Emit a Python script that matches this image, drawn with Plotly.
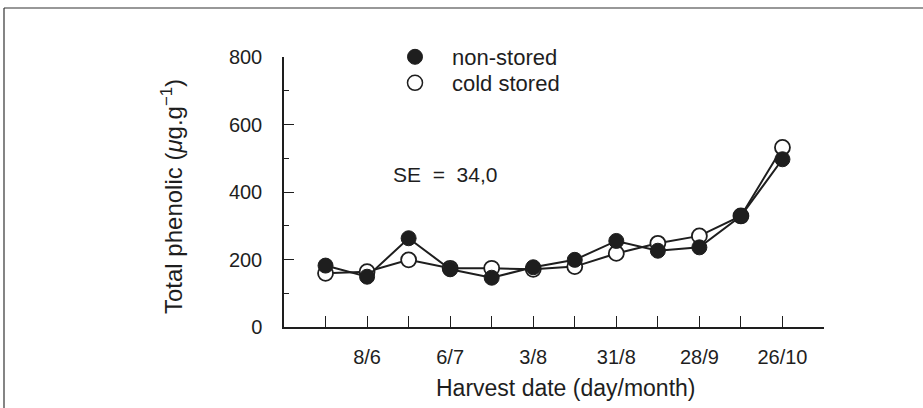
import plotly.graph_objects as go

# ---- data ----
positions = list(range(1, 13))
non_stored = [182, 149, 263, 171, 146, 177, 199, 255, 226, 236, 329, 497]
cold_stored = [159, 164, 199, 174, 174, 171, 179, 218, 248, 270, 329, 532]
x_tickvals = [2, 4, 6, 8, 10, 12]
x_ticktext = ["8/6", "6/7", "3/8", "31/8", "28/9", "26/10"]
y_tickvals = [0, 200, 400, 600, 800]

INK = "#1e1e1e"
FONT = "Liberation Sans, Arial, sans-serif"

fig = go.Figure()

fig.add_trace(go.Scatter(
    x=positions, y=cold_stored, mode="lines+markers", name="cold stored",
    showlegend=False,
    line=dict(color=INK, width=2),
    marker=dict(symbol="circle", size=15, color="white", line=dict(color=INK, width=1.8)),
))
fig.add_trace(go.Scatter(
    x=positions, y=non_stored, mode="lines+markers", name="non-stored",
    showlegend=False,
    line=dict(color=INK, width=2),
    marker=dict(symbol="circle", size=15, color=INK, line=dict(color=INK, width=1)),
))
# legend entries (marker only)
fig.add_trace(go.Scatter(
    x=[None], y=[None], mode="markers", name="non-stored", legend="legend",
    marker=dict(symbol="circle", size=15, color=INK, line=dict(color=INK, width=1)),
))
fig.add_trace(go.Scatter(
    x=[None], y=[None], mode="markers", name="cold stored", legend="legend2",
    marker=dict(symbol="circle", size=15, color="white", line=dict(color=INK, width=1.5)),
))

L, R, T, B = 284, 99, 57, 81
W, H = 923, 408
pw, ph = W - L - R, H - T - B

def px_x(p):
    return (p - L) / pw

def px_y(p):
    return (H - B - p) / ph

legend_common = dict(
    xanchor="left", yanchor="top", bgcolor="rgba(0,0,0,0)",
    font=dict(size=22, family=FONT, color=INK), itemwidth=64,
)

fig.update_layout(
    width=W, height=H,
    margin=dict(l=L, r=R, t=T, b=B, pad=0),
    paper_bgcolor="white", plot_bgcolor="white",
    font=dict(family=FONT, color=INK, size=20),
    showlegend=True,
    legend=dict(x=px_x(378), y=px_y(36), **legend_common),
    legend2=dict(x=px_x(378), y=px_y(62), **legend_common),
    xaxis=dict(
        range=[0, 13], showgrid=False, zeroline=False,
        showline=True, linecolor=INK, linewidth=1.5,
        tickmode="array", tickvals=x_tickvals, ticktext=x_ticktext,
        ticks="inside", ticklen=11, tickwidth=1.3, tickcolor=INK,
        minor=dict(dtick=1, tick0=0, ticks="inside", ticklen=11, tickwidth=1.3, tickcolor=INK, showgrid=False),
        tickfont=dict(size=20, family=FONT, color=INK),
        ticklabelstandoff=11,
    ),
    yaxis=dict(
        range=[0, 800], showgrid=False, zeroline=False,
        showline=True, linecolor=INK, linewidth=1.5,
        tickmode="array", tickvals=y_tickvals,
        ticks="inside", ticklen=10, tickwidth=1.3, tickcolor=INK,
        minor=dict(dtick=100, tick0=0, ticks="inside", ticklen=5, tickwidth=1.3, tickcolor=INK, showgrid=False),
        tickfont=dict(size=20, family=FONT, color=INK),
        ticklabelstandoff=16,
    ),
    annotations=[
        dict(text="Harvest date (day/month)", xref="paper", yref="paper",
             x=px_x(566), y=px_y(388), xanchor="center", yanchor="middle",
             showarrow=False, font=dict(size=23, family=FONT, color=INK)),
        dict(text="Total phenolic (<i>μ</i>g.g<sup>−1</sup>)", xref="paper", yref="paper",
             x=px_x(172), y=px_y(197), xanchor="center", yanchor="middle", textangle=-90,
             showarrow=False, font=dict(size=24, family=FONT, color=INK)),
        dict(text="SE\u00a0 =\u00a0 34,0", xref="paper", yref="paper",
             x=px_x(445), y=px_y(174), xanchor="center", yanchor="middle",
             showarrow=False, font=dict(size=21, family=FONT, color=INK)),
    ],
    shapes=[
        dict(type="line", xref="paper", yref="paper",
             x0=px_x(4), x1=px_x(W + 5), y0=px_y(8), y1=px_y(8),
             line=dict(color="#333", width=1.2)),
        dict(type="line", xref="paper", yref="paper",
             x0=px_x(4), x1=px_x(4), y0=px_y(8), y1=px_y(H + 5),
             line=dict(color="#333", width=1.2)),
    ],
)

fig.write_html("out.html")
